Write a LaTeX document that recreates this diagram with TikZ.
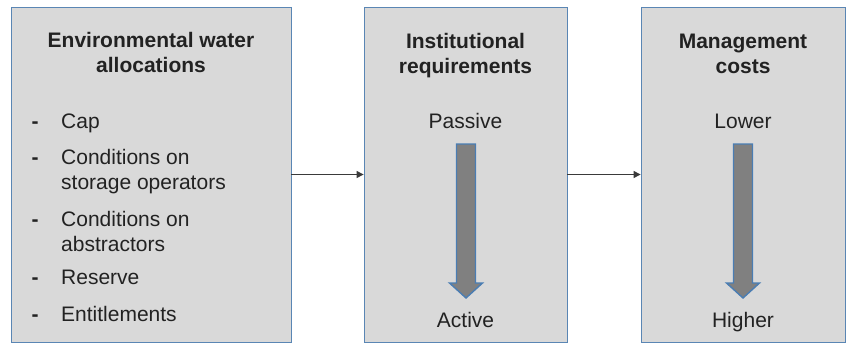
\documentclass[tikz,border=0pt]{standalone}
\usepackage{fontspec}
\setmainfont{Liberation Sans}
\usepackage{tikz}
\usetikzlibrary{arrows.meta}
\definecolor{boxfill}{HTML}{D9D9D9}
\definecolor{boxline}{HTML}{5A86B4}
\definecolor{arrowfill}{HTML}{808080}
\definecolor{arrowline}{HTML}{4A7DB3}
\definecolor{linegray}{HTML}{3A3A3A}
\definecolor{textgray}{HTML}{222222}

\begin{document}
\begin{tikzpicture}[x=1pt,y=-1pt,
    panel/.style={draw=boxline,fill=boxfill,line width=0.8pt,minimum width=#1,minimum height=335pt,inner sep=0pt},
    txt/.style={text=textgray,font=\fontsize{21}{25}\selectfont,inner sep=0pt,anchor=base},
    heading/.style={txt,font=\fontsize{21}{25}\selectfont\bfseries,align=center},
    item/.style={txt,anchor=base west,align=left},
    link/.style={draw=linegray,line width=1pt,-{Triangle[length=7pt,width=7pt]}},
    blockarrow/.style={draw=arrowline,fill=arrowfill,line width=1.4pt}]
  \useasboundingbox (0,0) rectangle (846,343);

  % the three panels
  \node[panel=280pt] (alloc) at (151,174.5) {};
  \node[panel=203pt] (inst) at (465.5,174.5) {};
  \node[panel=204pt] (cost) at (743,174.5) {};

  % headings (base = last line)
  \node[heading] (allocT) at (151,72) {Environmental water\\allocations};
  \node[heading] (instT) at (465.5,73) {Institutional\\requirements};
  \node[heading] (costT) at (743,73) {Management\\costs};

  % allocation list
  \foreach \y in {128,164,226,284,321}
    \node[txt,font=\fontsize{21}{25}\selectfont\bfseries] at (35,\y) {-};
  \node[item] (cap) at (61,128) {Cap};
  \node[item] (store) at (61,189) {Conditions on\\storage operators};
  \node[item] (abstr) at (61,251) {Conditions on\\abstractors};
  \node[item] (res) at (61,284) {Reserve};
  \node[item] (ent) at (61,321) {Entitlements};

  % scales
  \node[txt] (passive) at (465.5,128) {Passive};
  \node[txt] (active) at (465.5,327) {Active};
  \node[txt] (lower) at (743,128) {Lower};
  \node[txt] (higher) at (743,327) {Higher};
  \foreach \c in {466,743}
    \draw[blockarrow] (\c-9.5,144) -- (\c+9.5,144) -- (\c+9.5,283) -- (\c+16.5,283)
      -- (\c,298) -- (\c-16.5,283) -- (\c-9.5,283) -- cycle;

  % connectors
  \draw[link] (alloc.east) -- (inst.west);
  \draw[link] (inst.east) -- (cost.west);
\end{tikzpicture}
\end{document}
